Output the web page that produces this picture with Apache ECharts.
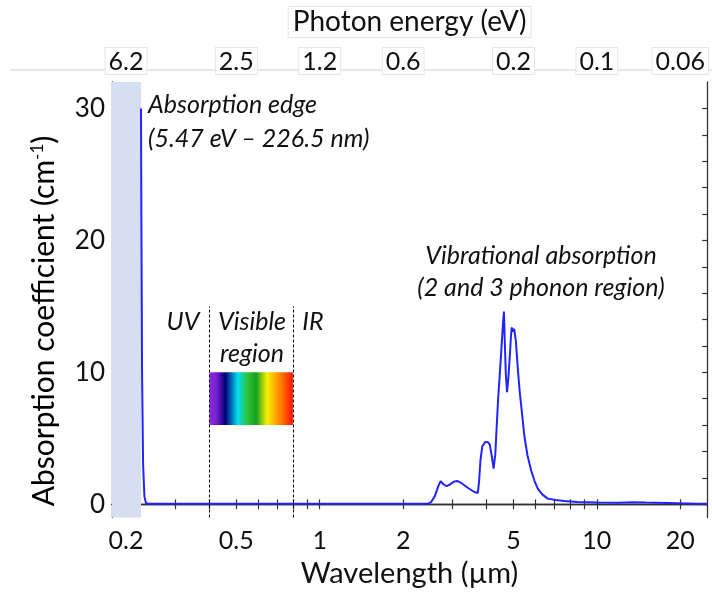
<!DOCTYPE html>
<html><head><meta charset="utf-8">
<script src="https://cdn.jsdelivr.net/npm/echarts@6/dist/echarts.min.js"></script>
<style>html,body{margin:0;padding:0;background:#fff}#c{width:712px;height:605px}</style>
</head><body><div id="c"></div>
<script>
// ---- data ----
const wavelength = [0.2265,0.2272,0.2285,0.2305,0.233,0.236,0.24,0.3,0.5,1,2,2.45,2.52,2.6,2.68,2.73,2.8,2.87,2.95,3.05,3.13,3.25,3.45,3.6,3.72,3.76,3.8,3.86,3.96,4.05,4.11,4.18,4.24,4.3,4.4,4.5,4.58,4.62,4.65,4.69,4.74,4.79,4.84,4.9,4.93,4.97,5.0,5.03,5.06,5.1,5.18,5.26,5.38,5.48,5.62,5.79,5.95,6.12,6.35,6.65,7.1,7.63,8.5,10,12,13.5,15,18,23,25];
const absorption = [30,22,10,3,0.6,0.1,0.05,0.05,0.05,0.05,0.05,0.05,0.15,0.6,1.4,1.75,1.5,1.37,1.5,1.72,1.77,1.6,1.2,0.95,0.86,1.8,3.3,4.4,4.73,4.7,4.5,3.6,2.7,3.8,7.9,11.0,13.6,14.6,12.5,10.0,8.5,9.5,10.9,12.8,13.4,13.1,13.0,13.3,13.4,12.4,10.4,8.66,6.7,5.1,3.7,2.58,1.8,1.19,0.75,0.43,0.32,0.25,0.18,0.13,0.12,0.15,0.13,0.1,0.05,0.05];
const wlLabelTicks = [0.2,0.5,1,2,5,10,20];
const wlMinorTicks = [0.2,0.3,0.4,0.5,0.6,0.7,0.8,0.9,1,2,3,4,5,6,7,8,9,10,20];
const energyLabels = ['6.2','2.5','1.2','0.6','0.2','0.1','0.06'];
const yTicks = [0,2,4,6,8,10,12,14,16,18,20,22,24,26,28,30];
const yLabels = [0,10,20,30];
const xRange = [0.178, 25];
const yRange = [-1, 32];
const absEdge = 0.2265;
const visibleRange = [0.4, 0.8];
const rainbowBand = [6, 10];
const dashTop = 15;

const FONT = 'Lato';
const AXIS_COLOR = '#333';
const ITALIC = 'italic 25px Lato';

function idxOf(v, arr){
  let best = 0, d = Infinity;
  arr.forEach((a,i)=>{ const dd = Math.abs(Math.log(a) - Math.log(v)); if (dd < d){d = dd; best = i;} });
  return best;
}

const chart = echarts.init(document.getElementById('c'), null, {renderer:'canvas'});
const commonX = {
  type: 'log', min: xRange[0], max: xRange[1], logBase: 10,
  splitLine: {show:false},
  axisLine: {show:true, lineStyle:{color:AXIS_COLOR, width:1.3}},
  axisTick: {show:true, inside:true, length:5, customValues: wlMinorTicks, lineStyle:{color:AXIS_COLOR, width:1.2}},
  minorTick: {show:false}
};
const option = {
  backgroundColor: '#fff',
  animation: false,
  grid: {left:112, right:2, top:82, bottom:87.5, containLabel:false},
  xAxis: [
    Object.assign({}, commonX, {
      position: 'bottom',
      axisLabel: {customValues: wlLabelTicks, margin: 11, fontSize: 25, fontFamily: FONT, color: '#111',
        formatter: v => String(wlLabelTicks[idxOf(v, wlLabelTicks)])},
      name: 'Wavelength (µm)', nameLocation: 'middle', nameGap: 42,
      nameTextStyle: {fontSize: 29, fontFamily: FONT, color: '#111'}
    }),
    Object.assign({}, commonX, {
      position: 'top',
      axisLabel: {customValues: wlLabelTicks, margin: 8, fontSize: 25, fontFamily: FONT, color: '#111',
        backgroundColor: '#fff', borderColor: '#e6e6e6', borderWidth: 1, padding: [1,3,0,3],
        formatter: v => energyLabels[idxOf(v, wlLabelTicks)]},
      name: 'Photon energy (eV)', nameLocation: 'middle', nameGap: 45,
      nameTextStyle: {fontSize: 28, fontFamily: FONT, color: '#111', backgroundColor:'#fff',
        borderColor:'#e6e6e6', borderWidth:1, padding:[1,4,1,4]}
    })
  ],
  yAxis: [
    {
      type: 'value', min: yRange[0], max: yRange[1], position: 'left',
      splitLine: {show:false},
      axisLine: {show:true, lineStyle:{color:AXIS_COLOR, width:1.3}},
      axisTick: {show:true, inside:true, length:5, customValues: yTicks, lineStyle:{color:AXIS_COLOR, width:1.2}},
      axisLabel: {customValues: yLabels, margin: 7, fontSize: 26, fontFamily: FONT, color: '#111'}
    },
    {
      type: 'value', min: yRange[0], max: yRange[1], position: 'right',
      splitLine: {show:false},
      axisLine: {show:true, lineStyle:{color:AXIS_COLOR, width:1.3}},
      axisTick: {show:true, inside:true, length:5, customValues: yTicks, lineStyle:{color:AXIS_COLOR, width:1.2}},
      axisLabel: {show:false}
    }
  ],
  series: [
    {
      type: 'line', xAxisIndex: 0, yAxisIndex: 0, data: [], z: 1, silent: true,
      markArea: {
        silent: true,
        data: [
          [{xAxis: xRange[0], yAxis: yRange[0], itemStyle:{color:'#d6dff1'}}, {xAxis: absEdge, yAxis: yRange[1]}],
          [{xAxis: visibleRange[0], yAxis: rainbowBand[0], itemStyle:{color:{type:'linear', x:0, y:0, x2:1, y2:0, colorStops:[
            {offset:0, color:'#8a2be2'},{offset:0.08, color:'#7a1fd0'},{offset:0.19, color:'#000078'},
            {offset:0.34, color:'#00e0f0'},{offset:0.46, color:'#30c030'},{offset:0.56, color:'#10a020'},
            {offset:0.69, color:'#f8f000'},{offset:0.85, color:'#ff8000'},{offset:1, color:'#ff1000'}]}}},
           {xAxis: visibleRange[1], yAxis: rainbowBand[1]}]
        ]
      },
      markLine: {
        silent: true, symbol: ['none','none'], label: {show:false},
        lineStyle: {color:'#000', type:[3,2], width:1},
        data: [
          [{coord:[visibleRange[0], yRange[0]]},{coord:[visibleRange[0], dashTop]}],
          [{coord:[visibleRange[1], yRange[0]]},{coord:[visibleRange[1], dashTop]}]
        ]
      }
    },
    {
      type: 'line', xAxisIndex: 0, yAxisIndex: 0, z: 5,
      data: wavelength.map((w,i)=>[w, absorption[i]]),
      symbol: 'none', smooth: false,
      lineStyle: {color:'#2323ff', width:2}
    }
  ],
  graphic: [
    {type:'line', z:-10, shape:{x1:10, y1:70, x2:712, y2:70}, style:{stroke:'#cfcfcf', lineWidth:1}},
    {type:'text', x:44, y:321, rotation: Math.PI/2, style:{
      text:'{a|Absorption coefficient (cm}{s|-1}{a|)}', textAlign:'center', textVerticalAlign:'middle',
      rich:{a:{fontSize:30, fontFamily:FONT, color:'#111'}, s:{fontSize:17, fontFamily:FONT, color:'#111', verticalAlign:'top', padding:[0,0,12,0]}}}},
    {type:'text', x:148, y:105, style:{text:'Absorption edge', font:ITALIC, fill:'#111', textVerticalAlign:'middle'}},
    {type:'text', x:148, y:139, style:{text:'(5.47 eV – 226.5 nm)', font:ITALIC, fill:'#111', textVerticalAlign:'middle'}},
    {type:'text', x:541, y:256, style:{text:'Vibrational absorption', font:ITALIC, fill:'#111', textAlign:'center', textVerticalAlign:'middle'}},
    {type:'text', x:541, y:288, style:{text:'(2 and 3 phonon region)', font:ITALIC, fill:'#111', textAlign:'center', textVerticalAlign:'middle'}},
    {type:'text', x:183, y:322, style:{text:'UV', font:ITALIC, fill:'#111', textAlign:'center', textVerticalAlign:'middle'}},
    {type:'text', x:252, y:322, style:{text:'Visible', font:ITALIC, fill:'#111', textAlign:'center', textVerticalAlign:'middle'}},
    {type:'text', x:252, y:354, style:{text:'region', font:ITALIC, fill:'#111', textAlign:'center', textVerticalAlign:'middle'}},
    {type:'text', x:313, y:322, style:{text:'IR', font:ITALIC, fill:'#111', textAlign:'center', textVerticalAlign:'middle'}}
  ]
};
chart.setOption(option);
</script>
</body></html>
